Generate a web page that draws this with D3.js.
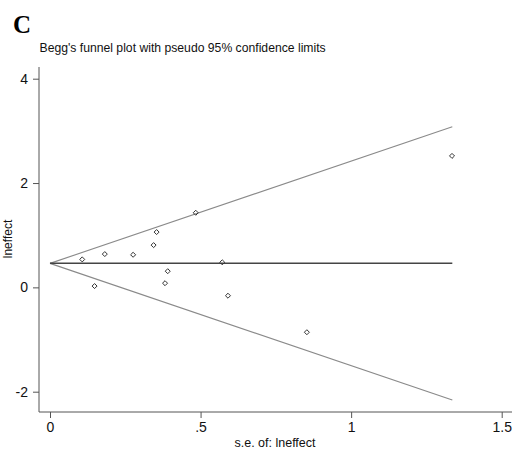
<!DOCTYPE html>
<html>
<head>
<meta charset="utf-8">
<script src="https://cdn.jsdelivr.net/npm/d3@7"></script>
<style>
  html, body { margin: 0; padding: 0; background: #fff; }
  svg { display: block; }
</style>
</head>
<body>
<svg id="chart" width="514" height="450"></svg>
<script>
// Study standard errors and log effects
const seValues = [0.107, 0.148, 0.182, 0.276, 0.344, 0.354, 0.391, 0.382, 0.484, 0.572, 0.591, 0.853, 1.335];
const effectValues = [0.536, 0.025, 0.638, 0.625, 0.81, 1.06, 0.31, 0.08, 1.43, 0.48, -0.16, -0.86, 2.52];
const pooledEffect = 0.46;
const maxSE = 1.336;
const xTickValues = [0, 0.5, 1, 1.5];
const xTickLabels = ["0", ".5", "1", "1.5"];
const yTickValues = [-2, 0, 2, 4];
const yTickLabels = ["-2", "0", "2", "4"];

const svg = d3.select("#chart");
const x = d3.scaleLinear().domain([0, 1.5]).range([50, 501.7]);
const y = d3.scaleLinear().domain([-2, 4]).range([391.7, 78.7]);

const font = "Liberation Sans, Arial, Helvetica, sans-serif";

// Panel letter
svg.append("text").attr("x", 13).attr("y", 33)
  .attr("font-family", "Liberation Serif, Times New Roman, serif")
  .attr("font-weight", "bold").attr("font-size", 25).text("C");

// Title
svg.append("text").attr("x", 39.5).attr("y", 52)
  .attr("font-family", font).attr("font-size", 12.2).attr("fill", "#111")
  .text("Begg's funnel plot with pseudo 95% confidence limits");

// Axes
const axisColor = "#555";
const xAxis = svg.append("g").attr("transform", "translate(0,412)")
  .call(d3.axisBottom(x).tickValues(xTickValues)
    .tickFormat((d, i) => xTickLabels[i]).tickSize(6).tickPadding(4).tickSizeOuter(0));
const yAxis = svg.append("g").attr("transform", "translate(39,0)")
  .call(d3.axisLeft(y).tickValues(yTickValues)
    .tickFormat((d, i) => yTickLabels[i]).tickSize(6).tickPadding(5).tickSizeOuter(0));

[xAxis, yAxis].forEach(g => {
  g.select(".domain").remove();
  g.selectAll(".tick line").attr("stroke", axisColor);
  g.selectAll(".tick text").attr("font-family", font).attr("font-size", 14).attr("fill", "#111");
});
// axis lines
svg.append("line").attr("x1", 39).attr("x2", 512).attr("y1", 412).attr("y2", 412).attr("stroke", axisColor);
svg.append("line").attr("x1", 39).attr("x2", 39).attr("y1", 67).attr("y2", 412).attr("stroke", axisColor);

// Axis titles
svg.append("text").attr("x", 275).attr("y", 447).attr("text-anchor", "middle")
  .attr("font-family", font).attr("font-size", 12.5).attr("fill", "#111")
  .text("s.e. of: lneffect");
svg.append("text").attr("transform", "translate(12,239) rotate(-90)").attr("text-anchor", "middle")
  .attr("font-family", font).attr("font-size", 12).attr("fill", "#111")
  .text("lneffect");

// Funnel lines
const upper = [[0, pooledEffect], [maxSE, pooledEffect + 1.96 * maxSE]];
const lower = [[0, pooledEffect], [maxSE, pooledEffect - 1.96 * maxSE]];
const line = d3.line().x(d => x(d[0])).y(d => y(d[1]));
svg.append("path").attr("d", line(upper)).attr("fill", "none").attr("stroke", "#8a8a8a").attr("stroke-width", 1.1);
svg.append("path").attr("d", line(lower)).attr("fill", "none").attr("stroke", "#8a8a8a").attr("stroke-width", 1.1);
svg.append("path").attr("d", line([[0, pooledEffect], [maxSE, pooledEffect]]))
  .attr("fill", "none").attr("stroke", "#444").attr("stroke-width", 1.5);

// Points (hollow diamonds)
const sym = d3.symbol().type(d3.symbolDiamond2).size(16);
svg.append("g").selectAll("path").data(seValues).join("path")
  .attr("d", sym)
  .attr("transform", (d, i) => `translate(${x(d)},${y(effectValues[i])})`)
  .attr("fill", "none").attr("stroke", "#333").attr("stroke-width", 1);
</script>
</body>
</html>
